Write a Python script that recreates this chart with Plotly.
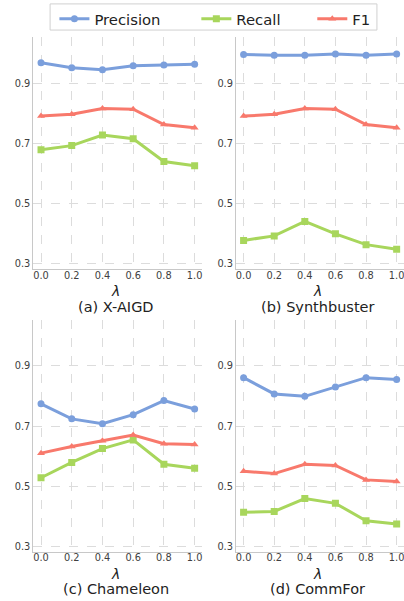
import plotly.graph_objects as go

lam = [0.0, 0.2, 0.4, 0.6, 0.8, 1.0]
series_names = ["Precision", "Recall", "F1"]
panel_titles = ["(a) X-AIGD", "(b) Synthbuster", "(c) Chameleon", "(d) CommFor"]

xaigd_precision = [0.968, 0.952, 0.945, 0.958, 0.961, 0.963]
xaigd_recall = [0.679, 0.693, 0.728, 0.716, 0.640, 0.626]
xaigd_f1 = [0.791, 0.797, 0.816, 0.814, 0.763, 0.752]

synth_precision = [0.996, 0.993, 0.993, 0.997, 0.993, 0.997]
synth_recall = [0.378, 0.393, 0.441, 0.400, 0.364, 0.349]
synth_f1 = [0.791, 0.797, 0.816, 0.814, 0.763, 0.752]

cham_precision = [0.774, 0.724, 0.708, 0.738, 0.785, 0.757]
cham_recall = [0.528, 0.579, 0.625, 0.654, 0.573, 0.560]
cham_f1 = [0.610, 0.632, 0.651, 0.670, 0.641, 0.639]

comm_precision = [0.861, 0.807, 0.799, 0.830, 0.861, 0.855]
comm_recall = [0.413, 0.416, 0.459, 0.443, 0.385, 0.374]
comm_f1 = [0.550, 0.542, 0.573, 0.569, 0.521, 0.516]

y_ticks = [0.3, 0.5, 0.7, 0.9]
x_ticks = [0.0, 0.2, 0.4, 0.6, 0.8, 1.0]

panels = [
    (xaigd_precision, xaigd_recall, xaigd_f1),
    (synth_precision, synth_recall, synth_f1),
    (cham_precision, cham_recall, cham_f1),
    (comm_precision, comm_recall, comm_f1),
]

colors = ["#7b9fdc", "#a8d65c", "#f8796c"]
symbols = ["circle", "square", "triangle-up"]

W, H = 404, 601
x_domains = [[0.0825, 0.5], [0.584, 1.0], [0.0825, 0.5], [0.584, 1.0]]
y_domains = [[0.5519, 0.938], [0.5519, 0.938], [0.082, 0.4676], [0.082, 0.4676]]
legend_x = [0.1347, 0.486, 0.773]
legend_ids = ["legend", "legend2", "legend3"]

fig = go.Figure()
font_family = "DejaVu Sans"

for i, vals in enumerate(panels):
    ax = "" if i == 0 else str(i + 1)
    for j, name in enumerate(series_names):
        fig.add_trace(go.Scatter(
            x=lam, y=vals[j], mode="lines+markers", name=name,
            line=dict(color=colors[j], width=3),
            marker=dict(symbol=symbols[j], size=7, color=colors[j]),
            xaxis="x" + ax, yaxis="y" + ax,
            showlegend=(i == 0), legendgroup=name, legend=legend_ids[j],
        ))
    common_grid = dict(showgrid=True, gridcolor="#dcdcdc", griddash="dash", gridwidth=0.8,
                       showline=True, linecolor="#c8c8c8", linewidth=1, zeroline=False,
                       tickfont=dict(size=9.8, color="#404040", family=font_family),
                       ticks="", ticklabeloverflow="allow")
    fig.update_layout(**{
        "xaxis" + ax: dict(domain=x_domains[i], anchor="y" + ax, range=[-0.05, 1.048],
                           tickvals=x_ticks, ticktext=[f"{t:.1f}" for t in x_ticks],
                           ticklabelstandoff=-3, **common_grid),
        "yaxis" + ax: dict(domain=y_domains[i], anchor="x" + ax, range=[0.282, 1.053],
                           tickvals=y_ticks, ticktext=[f"{t:.1f}" for t in y_ticks],
                           **common_grid),
    })
    xc = (x_domains[i][0] + x_domains[i][1]) / 2 - 0.005
    fig.add_annotation(text="<i>λ</i>", xref="paper", yref="paper",
                       x=xc, y=y_domains[i][0] - 0.0366, xanchor="center", yanchor="middle",
                       showarrow=False, borderpad=0,
                       font=dict(size=14, color="#222", family=font_family))
    fig.add_annotation(text=panel_titles[i], xref="paper", yref="paper",
                       x=xc, y=y_domains[i][0] - 0.0626, xanchor="center", yanchor="middle",
                       showarrow=False, borderpad=0,
                       font=dict(size=14.5, color="#222", family=font_family))

legend_common = dict(orientation="h", y=0.9955, yanchor="top", xanchor="left",
                     bgcolor="rgba(0,0,0,0)", borderwidth=0,
                     font=dict(size=14.8, color="#222", family=font_family))
fig.update_layout(
    width=W, height=H, margin=dict(l=0, r=0, t=0, b=0),
    paper_bgcolor="white", plot_bgcolor="white",
    font=dict(family=font_family),
    legend=dict(x=legend_x[0], **legend_common),
    legend2=dict(x=legend_x[1], **legend_common),
    legend3=dict(x=legend_x[2], **legend_common),
)
fig.add_shape(type="rect", xref="paper", yref="paper", x0=0.124, x1=0.933, y0=0.95, y1=0.9935,
              line=dict(color="#d0d0d0", width=1), fillcolor="rgba(0,0,0,0)", layer="below")

fig.write_html("out.html", config={"displayModeBar": False})
with open("out.html", "r", encoding="utf-8") as f:
    html = f.read()
html = html.replace("<body>", '<body style="margin:0;padding:0;">', 1)
html = html.replace("<head>", "<head><style>html,body{margin:0;padding:0;overflow:hidden;}</style>", 1)
with open("out.html", "w", encoding="utf-8") as f:
    f.write(html)
